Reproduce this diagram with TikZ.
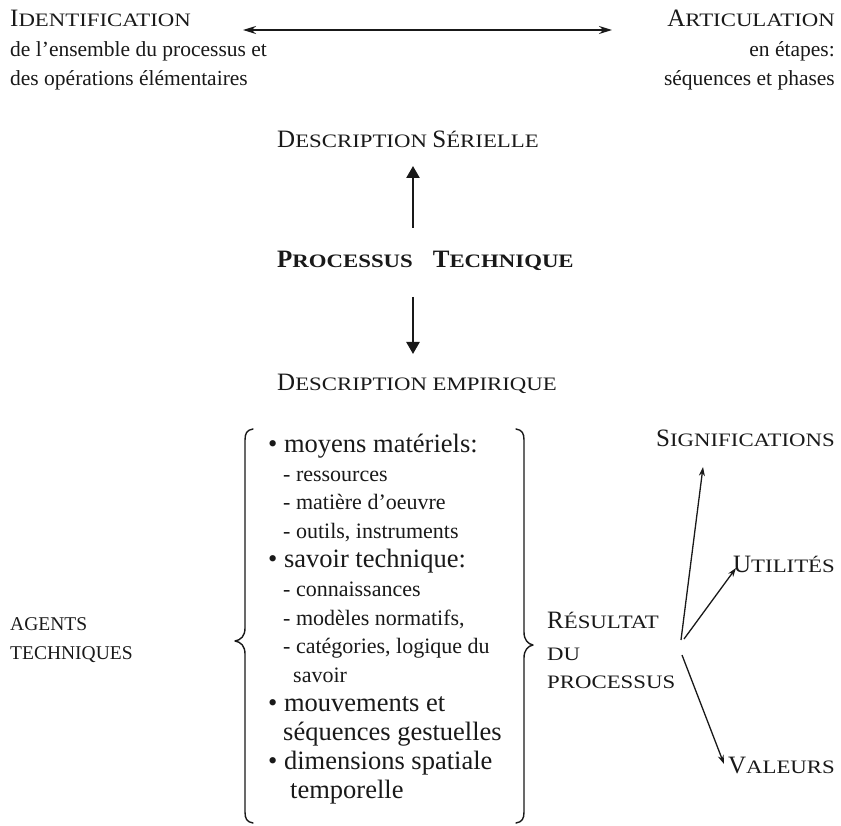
\documentclass[tikz,border=0pt]{standalone}
\usepackage{fontspec}
\setmainfont{Liberation Serif}
\newfontfamily\scf[FakeStretch=1.2]{Liberation Serif}
\usetikzlibrary{arrows.meta}
\definecolor{ink}{gray}{0.1}
\newcommand{\myBigCap}[1]{{\fontsize{25}{25}\selectfont #1}}
\newcommand{\mySmallCap}[1]{{\scf\fontsize{19}{19}\selectfont #1}}
\newcommand{\SC}[2]{\myBigCap{#1}\mySmallCap{#2}}
\tikzset{
  lbl/.style={inner sep=0pt, text=ink, font=\fontsize{21.5}{21.5}\selectfont},
  main/.style={inner sep=0pt, text=ink, anchor=base west, font=\fontsize{26.5}{26.5}\selectfont},
  sub/.style={inner sep=0pt, text=ink, anchor=base west, font=\fontsize{22}{22}\selectfont},
  harr/.style={draw=ink, line width=1.8pt, {Stealth[length=13pt,width=8pt]}-{Stealth[length=13pt,width=8pt]}},
  varr/.style={draw=ink, line width=2.4pt, -{Triangle[length=12pt,width=13pt]}},
  rarr/.style={draw=ink, line width=1.3pt, -{Stealth[length=9pt,width=6pt]}},
  brace/.style={draw=ink, line width=1.4pt, line cap=round, line join=round}
}
\begin{document}
\begin{tikzpicture}[x=1pt,y=-1pt]
\useasboundingbox (0,0) rectangle (841,826);
% top row
\node[lbl, anchor=base west] (ident) at (10,27) {\SC{I}{DENTIFICATION}};
\node[lbl, anchor=base west] (id1) at (10,57) {de l’ensemble du processus et};
\node[lbl, anchor=base west] (id2) at (10,86) {des opérations élémentaires};
\node[lbl, anchor=base east] (artic) at (835,27) {\SC{A}{RTICULATION}};
\node[lbl, anchor=base east] (ar1) at (835,57) {en étapes:};
\node[lbl, anchor=base east] (ar2) at (835,86) {séquences et phases};
\coordinate (hl) at (243,30);
\coordinate (hr) at (612,30);
\draw[harr] (hl) -- (hr);
% centre column
\node[lbl, anchor=base west] (dser) at (277,148) {\SC{D}{ESCRIPTION} \SC{S}{ÉRIELLE}};
\node[lbl, anchor=base west] (proc) at (277,268) {\bfseries\SC{P}{ROCESSUS}\hspace{20pt}\SC{T}{ECHNIQUE}};
\node[lbl, anchor=base west] (demp) at (277,390) {\SC{D}{ESCRIPTION EMPIRIQUE}};
\coordinate (u1) at (413,228);
\coordinate (u2) at (413,166);
\coordinate (d1) at (413,297);
\coordinate (d2) at (413,354);
\draw[varr] (u1) -- (u2);
\draw[varr] (d1) -- (d2);
% left label
\node[lbl, anchor=base west, font=\fontsize{19.5}{19.5}\selectfont] (ag1) at (10,630) {AGENTS};
\node[lbl, anchor=base west, font=\fontsize{19.5}{19.5}\selectfont] (ag2) at (10,659) {TECHNIQUES};
% braces
\draw[brace] (253,429) .. controls (247,430) and (245,433) .. (245,440)
  -- (245,628) .. controls (245,636) and (241,640) .. (235,641)
  .. controls (241,642) and (245,646) .. (245,654)
  -- (245,812) .. controls (245,819) and (247,822) .. (253,823);
\draw[brace] (516,429) .. controls (522,430) and (524,433) .. (524,440)
  -- (524,632) .. controls (524,640) and (528,644) .. (533,645)
  .. controls (528,646) and (524,650) .. (524,658)
  -- (524,812) .. controls (524,819) and (522,822) .. (516,823);
% list
\node[main] (l1) at (268,452) {• moyens matériels:};
\node[sub] (l2) at (283,481) {- ressources};
\node[sub] (l3) at (283,509.5) {- matière d’oeuvre};
\node[sub] (l4) at (283,538) {- outils, instruments};
\node[main] (l5) at (268,567) {• savoir technique:};
\node[sub] (l6) at (283,596) {- connaissances};
\node[sub] (l7) at (283,625) {- modèles normatifs,};
\node[sub] (l8) at (283,653.5) {- catégories, logique du};
\node[sub] (l9) at (293,682) {savoir};
\node[main] (l10) at (268,711) {• mouvements et};
\node[main] (l11) at (283,740) {séquences gestuelles};
\node[main] (l12) at (268,769) {• dimensions spatiale};
\node[main] (l13) at (290,798) {temporelle};
% result
\node[lbl, anchor=base west] (res1) at (547,628) {\SC{R}{ÉSULTAT}};
\node[lbl, anchor=base west] (res2) at (547,660) {\mySmallCap{DU}};
\node[lbl, anchor=base west] (res3) at (547,688) {\mySmallCap{PROCESSUS}};
\node[lbl, anchor=base east] (sig) at (835,446) {\SC{S}{IGNIFICATIONS}};
\node[lbl, anchor=base east] (uti) at (835,572) {\SC{U}{TILITÉS}};
\node[lbl, anchor=base east] (val) at (835,773) {\SC{V}{ALEURS}};
\coordinate (r1) at (681,640);
\coordinate (r2) at (684,639);
\coordinate (r3) at (682,655);
\coordinate (t1) at (703,467);
\coordinate (t2) at (736,568);
\coordinate (t3) at (724,764);
\draw[rarr] (r1) -- (t1);
\draw[rarr] (r2) -- (t2);
\draw[rarr] (r3) -- (t3);
\end{tikzpicture}
\end{document}
